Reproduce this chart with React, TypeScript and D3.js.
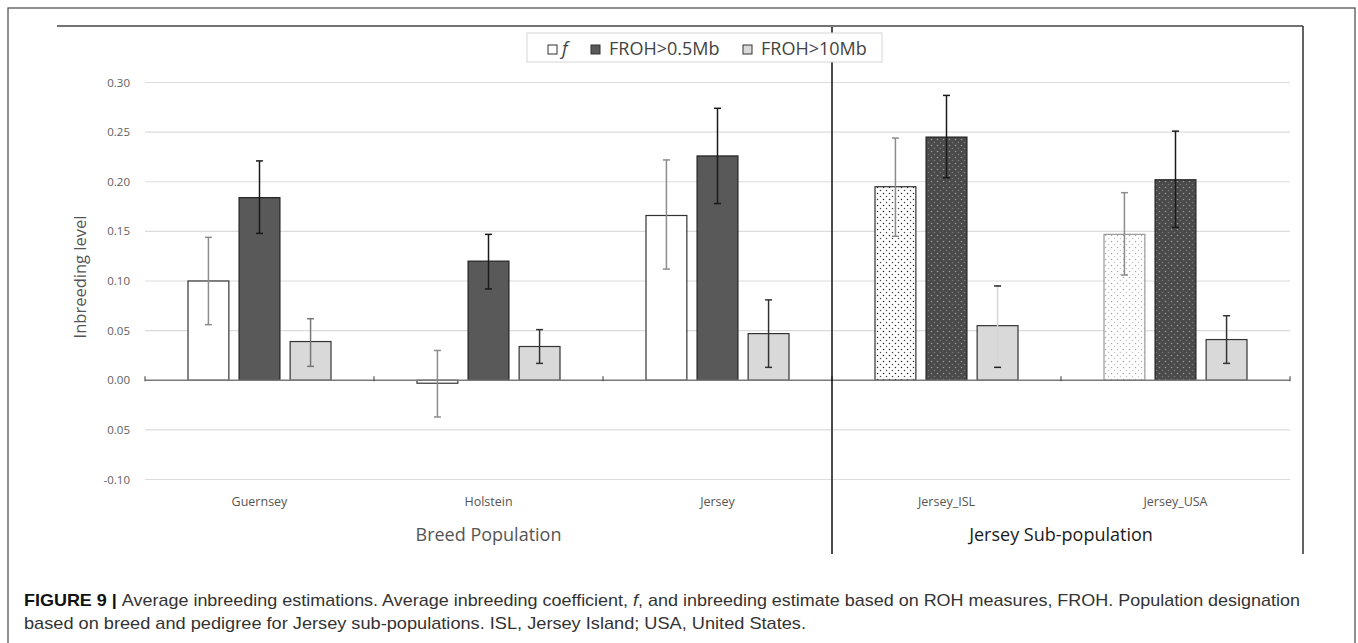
import React from "react";
import * as d3 from "d3";

// values
const categories = ["Guernsey", "Holstein", "Jersey", "Jersey_ISL", "Jersey_USA"];
const seriesKeys = ["f", "froh05", "froh10"];
const seriesNames = ["f", "FROH>0.5Mb", "FROH>10Mb"];

const fMean = [0.1, -0.003, 0.166, 0.195, 0.147];
const fLow = [0.056, -0.037, 0.112, 0.145, 0.106];
const fHigh = [0.144, 0.03, 0.222, 0.244, 0.189];

const froh05Mean = [0.184, 0.12, 0.226, 0.245, 0.202];
const froh05Low = [0.148, 0.092, 0.178, 0.204, 0.154];
const froh05High = [0.221, 0.147, 0.274, 0.287, 0.251];

const froh10Mean = [0.039, 0.034, 0.047, 0.055, 0.041];
const froh10Low = [0.014, 0.017, 0.013, 0.013, 0.017];
const froh10High = [0.062, 0.051, 0.081, 0.095, 0.065];

const yTicks = [0.3, 0.25, 0.2, 0.15, 0.1, 0.05, 0, -0.05, -0.1];
const yTickLabels = ["0.30", "0.25", "0.20", "0.15", "0.10", "0.05", "0.00", "0.05", "-0.10"];

const groupLabels = ["Breed Population", "Jersey Sub-population"];

const W = 1358;
const H = 643;
const FONT = "'Open Sans', 'DejaVu Sans', sans-serif";
const CAPTION_FONT = "'Liberation Sans', Arial, sans-serif";

const means = [fMean, froh05Mean, froh10Mean];
const lows = [fLow, froh05Low, froh10Low];
const highs = [fHigh, froh05High, froh10High];

export default function App() {
  const y = d3.scaleLinear().domain([-0.1, 0.3]).range([479.5, 82.5]);
  const x = d3.scaleBand().domain(categories).range([145, 1290]);
  const groupW = 143;
  const xs = d3.scaleBand().domain(seriesKeys).range([0, groupW]).paddingInner(0.2);
  const bw = xs.bandwidth();
  const divider = x("Jersey_ISL")!;

  const barStyle = (si: number, ci: number) => {
    const sub = ci >= 3;
    if (si === 0) {
      if (!sub) return { fill: "#fff", stroke: "#333" };
      return ci === 3 ? { fill: "url(#dotsBlack)", stroke: "#333" } : { fill: "url(#dotsGray)", stroke: "#999" };
    }
    if (si === 1) return { fill: sub ? "url(#dotsDark)" : "#595959", stroke: "#222" };
    return { fill: "#d9d9d9", stroke: "#333" };
  };
  const errColor = (si: number, ci: number) => {
    if (si === 0) return "#8c8c8c";
    if (si === 1) return "#1a1a1a";
    return ci === 3 ? "#d4d4d4" : ci === 0 ? "#777" : "#333";
  };
  const capColor = (si: number, ci: number) => (si === 2 && ci === 3 ? "#222" : errColor(si, ci));

  const boundaries = [...categories.map((c) => x(c)!), 1290];

  return (
    <div style={{ position: "fixed", left: 0, top: 0 }}>
      <svg width={W} height={H} style={{ display: "block", background: "#fff" }}>
        <defs>
          <pattern id="dotsBlack" width="6" height="6" patternUnits="userSpaceOnUse">
            <rect width="6" height="6" fill="#fff" />
            <circle cx="1.5" cy="1.5" r="0.75" fill="#222" />
            <circle cx="4.5" cy="4.5" r="0.75" fill="#444" />
          </pattern>
          <pattern id="dotsGray" width="6" height="6" patternUnits="userSpaceOnUse">
            <rect width="6" height="6" fill="#fff" />
            <circle cx="1.5" cy="1.5" r="0.75" fill="#aaa" />
            <circle cx="4.5" cy="4.5" r="0.75" fill="#c4c4c4" />
          </pattern>
          <pattern id="dotsDark" width="6" height="6" patternUnits="userSpaceOnUse">
            <rect width="6" height="6" fill="#4a4a4a" />
            <circle cx="1.5" cy="1.5" r="0.8" fill="#9a9a9a" />
            <circle cx="4.5" cy="4.5" r="0.8" fill="#7a7a7a" />
          </pattern>
        </defs>

        {/* outer figure frame */}
        <rect x={8} y={8} width={1347} height={700} fill="none" stroke="#555" strokeWidth={1.3} />

        {/* chart frame (top + right) */}
        <line x1={57} x2={1303} y1={26} y2={26} stroke="#444" strokeWidth={1.4} />
        <line x1={1303} x2={1303} y1={26} y2={554} stroke="#222" strokeWidth={1.4} />

        {/* gridlines */}
        {yTicks.filter((t) => t !== 0).map((t) => (
          <line key={t} x1={145} x2={1290} y1={y(t)} y2={y(t)} stroke="#dcdcdc" strokeWidth={1.2} />
        ))}

        {/* y tick labels */}
        {yTicks.map((t, i) => (
          <text key={"yl" + t} x={130} y={y(t) + 4} textAnchor="end" fontSize={11.5} fill="#606060" fontFamily={FONT}>
            {yTickLabels[i]}
          </text>
        ))}

        <text
          transform={`translate(86,${y(0.1) - 4}) rotate(-90)`}
          textAnchor="middle"
          fontSize={16.5}
          fill="#555"
          fontFamily={FONT}
        >
          Inbreeding level
        </text>

        {/* bars */}
        {categories.map((c, ci) => {
          const x0 = x(c)! + x.bandwidth() / 2 - groupW / 2;
          return (
            <g key={c}>
              {seriesKeys.map((k, si) => {
                const v = means[si][ci];
                const bx = x0 + xs(k)!;
                const st = barStyle(si, ci);
                return (
                  <rect
                    key={k}
                    x={bx}
                    y={Math.min(y(v), y(0))}
                    width={bw}
                    height={Math.abs(y(v) - y(0))}
                    fill={st.fill}
                    stroke={st.stroke}
                    strokeWidth={1.2}
                  />
                );
              })}
            </g>
          );
        })}

        {/* zero axis */}
        <line x1={145} x2={1290} y1={y(0)} y2={y(0)} stroke="#7a7a7a" strokeWidth={1.5} />
        {boundaries.map((b) => (
          <line key={"tk" + b} x1={b} x2={b} y1={y(0) - 4} y2={y(0) + 1} stroke="#555" strokeWidth={1.2} />
        ))}

        {/* error bars */}
        {categories.map((c, ci) => {
          const x0 = x(c)! + x.bandwidth() / 2 - groupW / 2;
          return (
            <g key={"e" + c}>
              {seriesKeys.map((k, si) => {
                const cx = x0 + xs(k)! + bw / 2;
                const col = errColor(si, ci);
                const cap = capColor(si, ci);
                const lo = y(lows[si][ci]);
                const hi = y(highs[si][ci]);
                return (
                  <g key={k} strokeWidth={1.5}>
                    <line x1={cx} x2={cx} y1={hi} y2={lo} stroke={col} />
                    <line x1={cx - 3.5} x2={cx + 3.5} y1={hi} y2={hi} stroke={cap} />
                    <line x1={cx - 3.5} x2={cx + 3.5} y1={lo} y2={lo} stroke={cap} />
                  </g>
                );
              })}
            </g>
          );
        })}

        {/* divider */}
        <line x1={divider} x2={divider} y1={27} y2={554} stroke="#111" strokeWidth={1.5} />

        {/* category labels */}
        {categories.map((c) => (
          <text key={"cl" + c} x={x(c)! + x.bandwidth() / 2} y={506} textAnchor="middle" fontSize={12.5} fill="#555" fontFamily={FONT}>
            {c}
          </text>
        ))}

        <text x={(145 + divider) / 2} y={541} textAnchor="middle" fontSize={18} fill="#555" fontFamily={FONT}>
          {groupLabels[0]}
        </text>
        <text x={(divider + 1290) / 2} y={541} textAnchor="middle" fontSize={18} fill="#1a1a1a" fontFamily={FONT}>
          {groupLabels[1]}
        </text>

        {/* legend */}
        <rect x={527} y={33} width={355} height={29} fill="#fff" stroke="#d6d6d6" strokeWidth={1} />
        {seriesKeys.map((k, si) => {
          const lx = [548, 591, 743][si];
          const fills = ["#fff", "#595959", "#d9d9d9"];
          return (
            <g key={"lg" + k}>
              <rect x={lx} y={45} width={9} height={9} fill={fills[si]} stroke="#333" strokeWidth={1} />
              <text
                x={lx + (si === 0 ? 14 : 18)}
                y={54.5}
                fontSize={18}
                fill="#444"
                fontFamily={FONT}
                fontStyle={si === 0 ? "italic" : "normal"}
              >
                {seriesNames[si]}
              </text>
            </g>
          );
        })}

        {/* caption */}
        <text x={24} y={606} fontSize={17} fill="#333" fontFamily={CAPTION_FONT} textLength={1276} lengthAdjust="spacingAndGlyphs">
          <tspan fontWeight="bold" fill="#111">FIGURE 9 | </tspan>
          <tspan>Average inbreeding estimations. Average inbreeding coefficient, </tspan>
          <tspan fontStyle="italic">f</tspan>
          <tspan>, and inbreeding estimate based on ROH measures, FROH. Population designation</tspan>
        </text>
        <text x={24} y={629} fontSize={17} fill="#333" fontFamily={CAPTION_FONT} textLength={782} lengthAdjust="spacingAndGlyphs">
          based on breed and pedigree for Jersey sub-populations. ISL, Jersey Island; USA, United States.
        </text>
      </svg>
    </div>
  );
}
